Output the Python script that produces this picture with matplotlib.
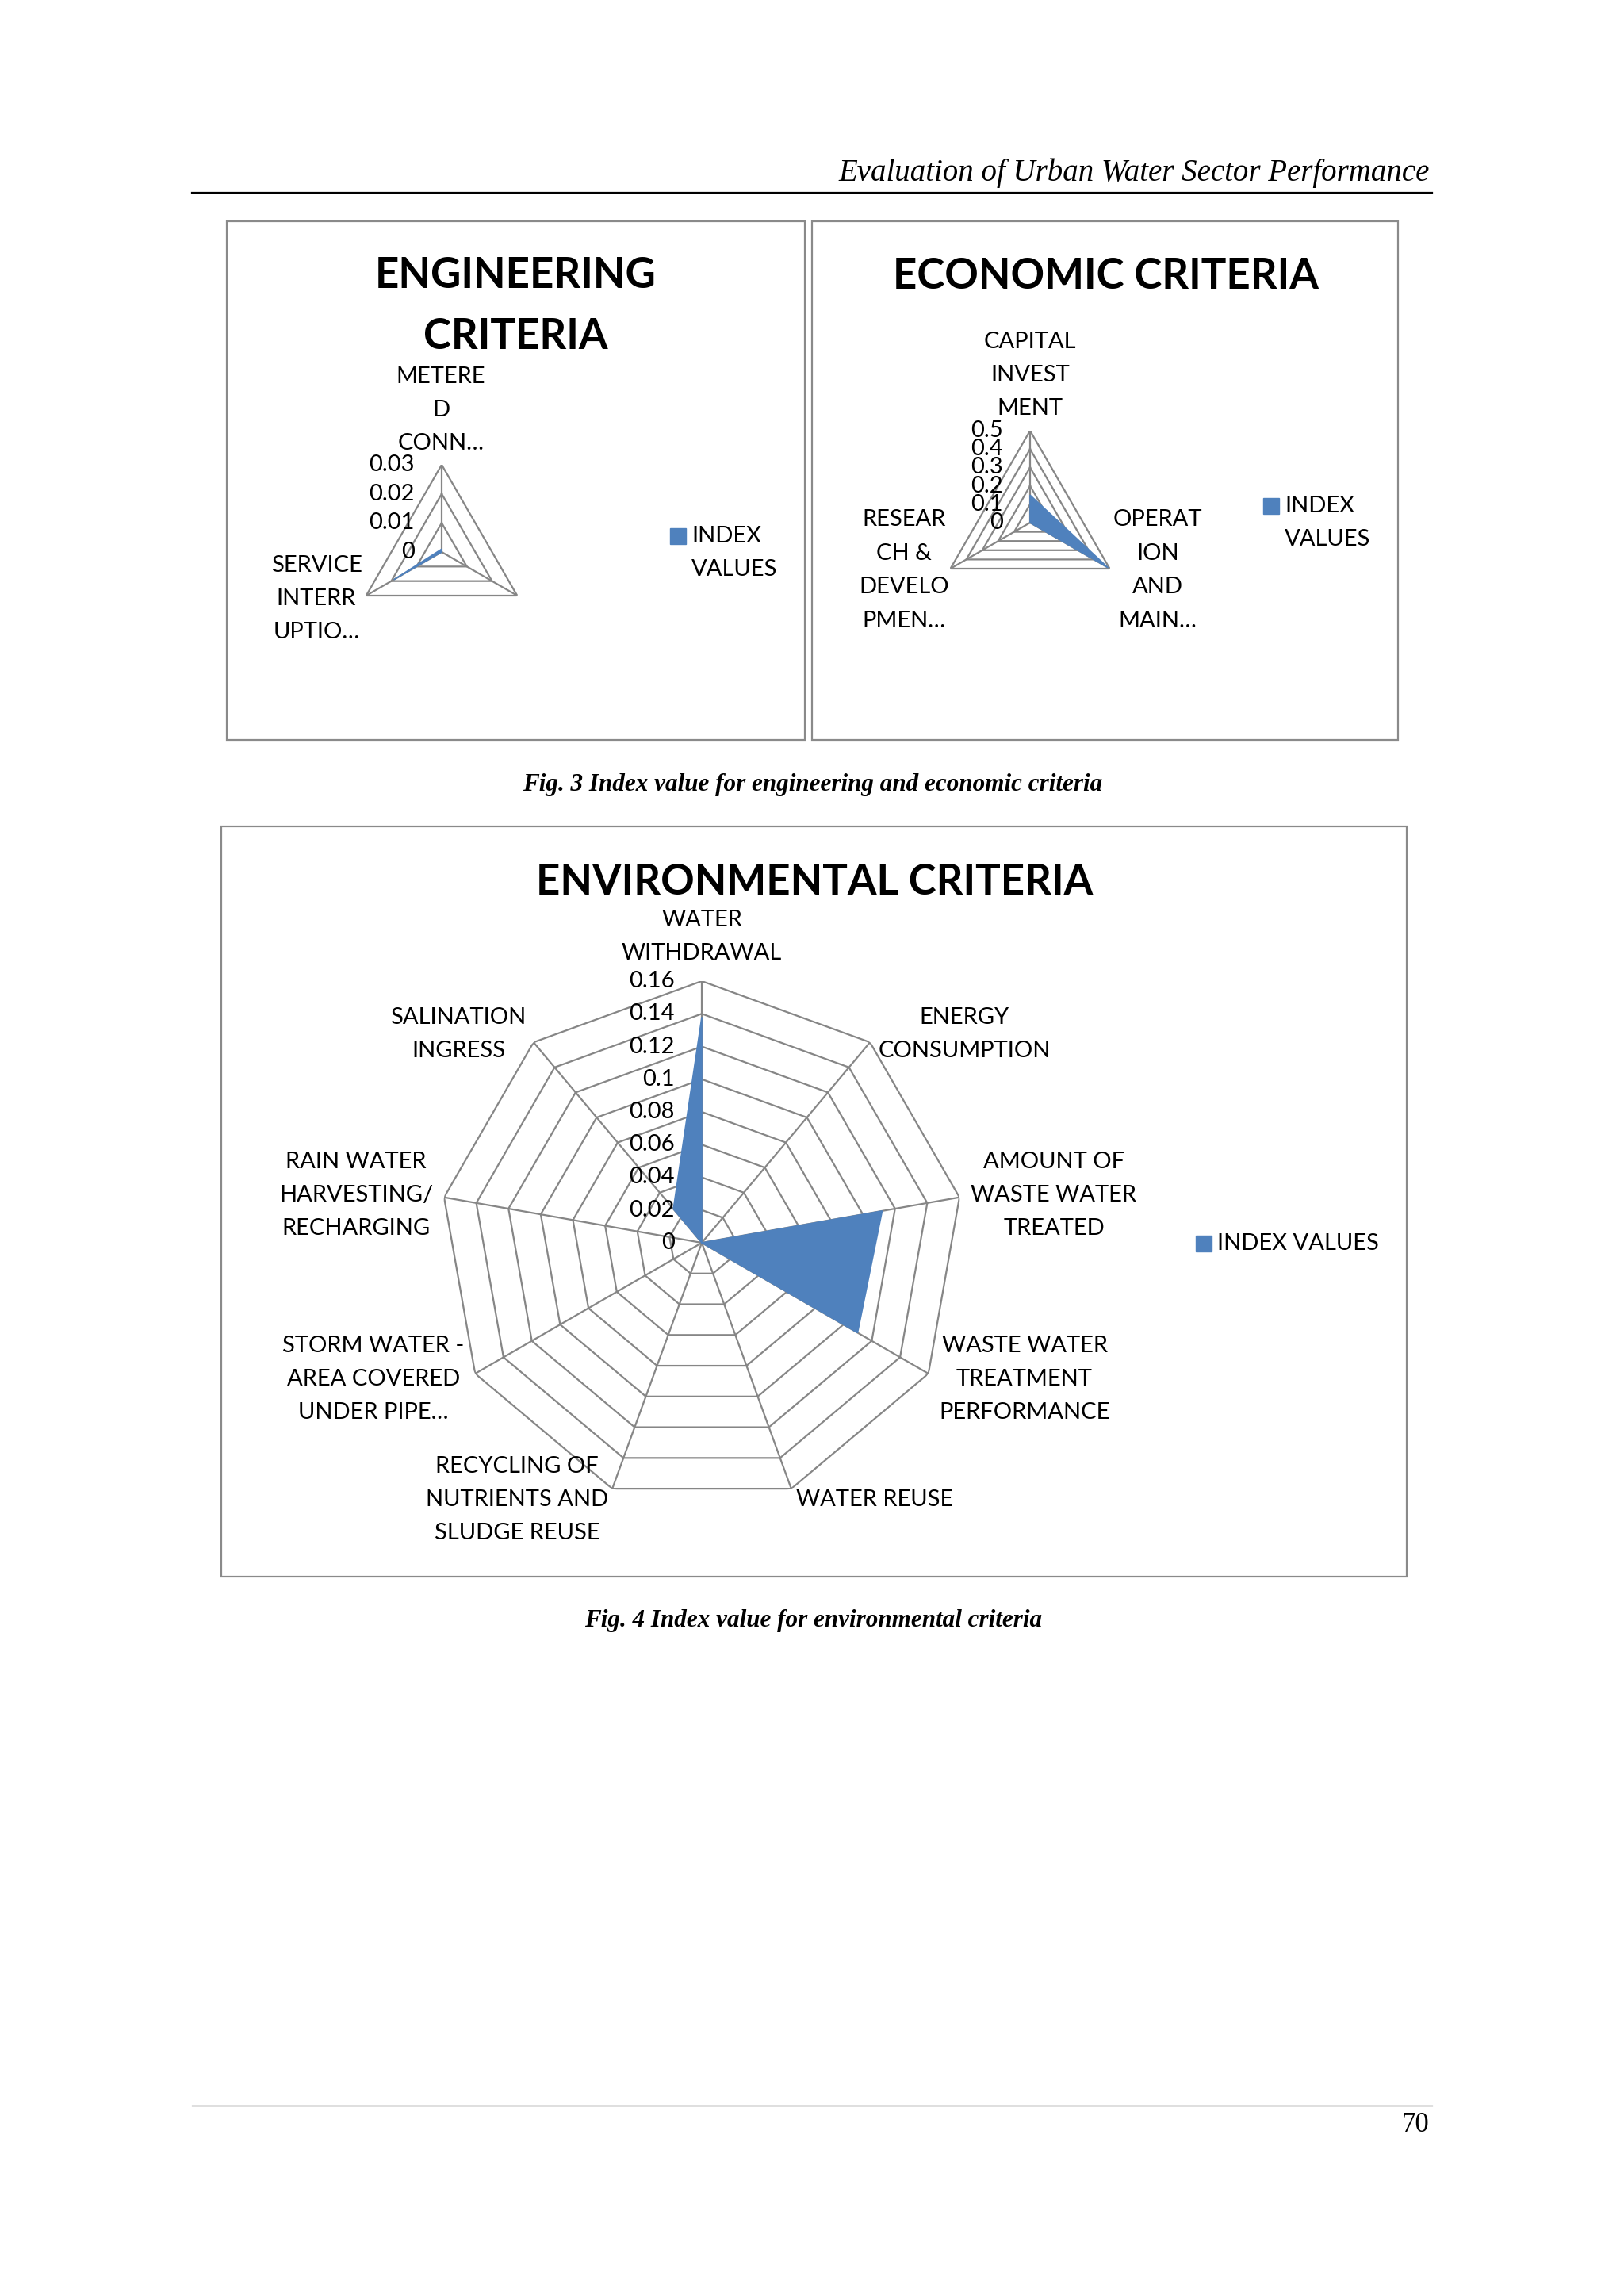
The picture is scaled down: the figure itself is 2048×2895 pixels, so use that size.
import numpy as np
import matplotlib
matplotlib.use('Agg')
import matplotlib.pyplot as plt
from matplotlib.patches import Rectangle
from matplotlib.lines import Line2D
from matplotlib.transforms import offset_copy

# ---- data ----
eng_labels = ['METERE\nD\nCONN…', '', 'SERVICE\nINTERR\nUPTIO…']
eng_values = [0.001, 0.0, 0.019]
eng_ticks = [0, 0.01, 0.02, 0.03]

eco_labels = ['CAPITAL\nINVEST\nMENT', 'OPERAT\nION\nAND\nMAIN…', 'RESEAR\nCH &\nDEVELO\nPMEN…']
eco_values = [0.15, 0.49, 0.0]
eco_ticks = [0, 0.1, 0.2, 0.3, 0.4, 0.5]

env_labels = ['WATER\nWITHDRAWAL', 'ENERGY\nCONSUMPTION', 'AMOUNT OF\nWASTE WATER\nTREATED',
              'WASTE WATER\nTREATMENT\nPERFORMANCE', 'WATER REUSE',
              'RECYCLING OF\nNUTRIENTS AND\nSLUDGE REUSE', 'STORM WATER -\nAREA COVERED\nUNDER PIPE…',
              'RAIN WATER\nHARVESTING/\nRECHARGING', 'SALINATION\nINGRESS']
env_values = [0.138, 0.0, 0.112, 0.110, 0.0, 0.0, 0.0, 0.0, 0.027]
env_ticks = [0, 0.02, 0.04, 0.06, 0.08, 0.1, 0.12, 0.14, 0.16]

series_name = 'INDEX VALUES'

BLUE = '#4F81BD'
GRID = '#868686'
FONT = 'Lato'
SERIF = 'Liberation Serif'
LBL = 21
LS = 1.78

W, H = 2048, 2895
fig = plt.figure(figsize=(W / 100, H / 100), dpi=100)


def fx(x):
    return x / W


def fy(y):
    return 1 - y / H


def radar(cx, cy, R, values, ticks, label_pos, labels):
    ax = fig.add_axes([fx(cx - R), fy(cy + R), 2 * R / W, 2 * R / H], projection='polar')
    n = len(values)
    theta = np.arange(n) * 2 * np.pi / n
    ax.set_theta_zero_location('N')
    ax.set_theta_direction(-1)
    ax.set_ylim(0, ticks[-1])
    ax.grid(False)
    ax.set_xticks([])
    ax.set_yticks([])
    ax.spines['polar'].set_visible(False)
    ax.patch.set_visible(False)
    tc = np.append(theta, theta[0])
    for t in ticks[1:]:
        ax.plot(tc, [t] * (n + 1), color=GRID, lw=1.6, zorder=1)
    for th in theta:
        ax.plot([th, th], [0, ticks[-1]], color=GRID, lw=1.6, zorder=1)
    ax.fill(tc, np.append(values, values[0]), facecolor=BLUE, edgecolor=BLUE, lw=1.2, zorder=2)
    tr = offset_copy(ax.transData, fig=fig, x=-34, y=0, units='dots')
    for t in ticks:
        ax.text(0, t, f'{t:g}', transform=tr, ha='right', va='center',
                family=FONT, size=LBL, zorder=3, clip_on=False)
    for (x, y), lab in zip(label_pos, labels):
        if lab:
            fig.text(fx(x), fy(y), lab, ha='center', va='center', family=FONT,
                     size=LBL, linespacing=LS)
    return ax


def legend(x, y, text):
    # y is the centre of the first text line, where the colour square sits
    s = 20
    fig.add_artist(Rectangle((fx(x), fy(y + s / 2)), s / W, s / H,
                             transform=fig.transFigure, color=BLUE))
    nlines = text.count('\n')
    fig.text(fx(x + s + 7), fy(y + 21 * nlines), text, ha='left', va='center',
             family=FONT, size=LBL, linespacing=LS)


def box(x0, y0, x1, y1):
    fig.add_artist(Rectangle((fx(x0), fy(y1)), (x1 - x0) / W, (y1 - y0) / H,
                             transform=fig.transFigure, fill=False, ec='#8A8A8A', lw=1.6))


# ---- page furniture ----
fig.text(fx(1803), fy(218), 'Evaluation of Urban Water Sector Performance', ha='right', va='center',
         family=SERIF, style='italic', size=28)
fig.add_artist(Line2D([fx(242), fx(1806)], [fy(243), fy(243)], color='black', lw=1.6))
fig.add_artist(Line2D([fx(242), fx(1806)], [fy(2655), fy(2655)], color='black', lw=0.9))
fig.text(fx(1803), fy(2680), '70', ha='right', va='center', family=SERIF, size=25)

# ---- Fig. 3 ----
box(286, 279, 1015, 933)
box(1024, 279, 1763, 933)
fig.text(fx(650), fy(386), 'ENGINEERING\nCRITERIA', ha='center', va='center', family=FONT,
         weight='bold', size=38, linespacing=1.72)
fig.text(fx(1394), fy(349), 'ECONOMIC CRITERIA', ha='center', va='center', family=FONT,
         weight='bold', size=38)
radar(557, 696, 110, eng_values, eng_ticks,
      [(556, 517), (0, 0), (399, 755)], eng_labels)
legend(845, 676, 'INDEX\nVALUES')
radar(1299, 659, 116, eco_values, eco_ticks,
      [(1299, 473), (1460, 719), (1140, 719)], eco_labels)
legend(1593, 638, 'INDEX\nVALUES')
fig.text(fx(1025), fy(989), 'Fig. 3 Index value for engineering and economic criteria', ha='center',
         va='center', family=SERIF, style='italic', weight='bold', size=22.4)

# ---- Fig. 4 ----
box(279, 1042, 1774, 1988)
fig.text(fx(1027), fy(1112), 'ENVIRONMENTAL CRITERIA', ha='center', va='center', family=FONT,
         weight='bold', size=38)
radar(885, 1567, 330, env_values, env_ticks,
      [(885, 1181), (1216, 1304), (1329, 1507), (1292, 1739), (1103, 1891),
       (652, 1891), (471, 1739), (449, 1507), (578, 1304)], env_labels)
legend(1508, 1568, series_name)
fig.text(fx(1026), fy(2044), 'Fig. 4 Index value for environmental criteria', ha='center',
         va='center', family=SERIF, style='italic', weight='bold', size=22.4)

fig.savefig('out.png', dpi=100, facecolor='white')
